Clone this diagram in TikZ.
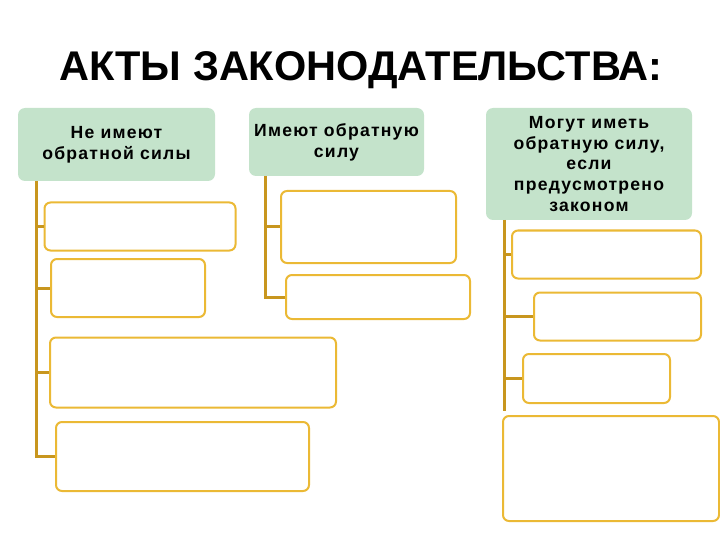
\documentclass[tikz,border=0pt]{standalone}
\usepackage{fontspec}
\setmainfont{Liberation Sans}
\definecolor{headgreen}{HTML}{C4E3CB}
\definecolor{spinegold}{HTML}{C8961E}
\definecolor{boxgold}{HTML}{EBB935}
\begin{document}
\begin{tikzpicture}[x=1pt,y=-1pt,
	head/.style={fill=headgreen,rounded corners=7pt,align=center,inner sep=0pt,
		font=\fontsize{17.6}{20.8}\selectfont\bfseries\addfontfeature{LetterSpace=7}},
	leaf/.style={draw=boxgold,line width=2pt,rounded corners=6pt,fill=white,inner sep=0pt},
	spine/.style={draw=spinegold,line width=3pt}]
	\useasboundingbox (0,0) rectangle (720,540);
	\node[font=\fontsize{41.5}{44}\selectfont\bfseries] (title) at (361,70) {АКТЫ ЗАКОНОДАТЕЛЬСТВА:};
	% headers
	\node[head,minimum width=197pt,minimum height=73pt] (h1) at (116.5,144.5) {Не имеют\\обратной силы};
	\node[head,minimum width=175pt,minimum height=68pt] (h2) at (336.5,142) {Имеют обратную\\силу};
	\node[head,minimum width=206pt,minimum height=112pt] (h3) at (589,164) {Могут иметь\\обратную силу,\\если\\предусмотрено\\законом};
	% spines
	\coordinate (s1) at (36,181);
	\coordinate (s2) at (265,176);
	\coordinate (s3) at (504,220);
	% boxes, column 1
	\node[leaf,minimum width=191pt,minimum height=48pt] (a1) at (140,226.5) {};
	\node[leaf,minimum width=154pt,minimum height=58pt] (a2) at (128,288) {};
	\node[leaf,minimum width=286pt,minimum height=70pt] (a3) at (193,372.5) {};
	\node[leaf,minimum width=253pt,minimum height=69pt] (a4) at (182.5,456.5) {};
	% boxes, column 2
	\node[leaf,minimum width=175pt,minimum height=72pt] (b1) at (368.5,227) {};
	\node[leaf,minimum width=184pt,minimum height=44pt] (b2) at (378,297) {};
	% boxes, column 3
	\node[leaf,minimum width=189pt,minimum height=48pt] (c1) at (606.5,254.5) {};
	\node[leaf,minimum width=167pt,minimum height=48pt] (c2) at (617.5,316.5) {};
	\node[leaf,minimum width=147pt,minimum height=49pt] (c3) at (596.5,378.5) {};
	\node[leaf,minimum width=216pt,minimum height=105pt] (c4) at (611,468.5) {};
	% connectors
	\draw[spine] (s1) -- (s1 |- a4.west) -- (a4.west);
	\foreach \b in {a1,a2,a3} \draw[spine] (s1 |- \b.west) -- (\b.west);
	\draw[spine] (s2) -- (s2 |- b2.west) -- (b2.west);
	\draw[spine] (s2 |- b1.west) -- (b1.west);
	\draw[spine] (s3) -- ([yshift=4pt]s3 |- c4.north);
	\foreach \b in {c1,c2,c3} \draw[spine] (s3 |- \b.west) -- (\b.west);
\end{tikzpicture}
\end{document}
